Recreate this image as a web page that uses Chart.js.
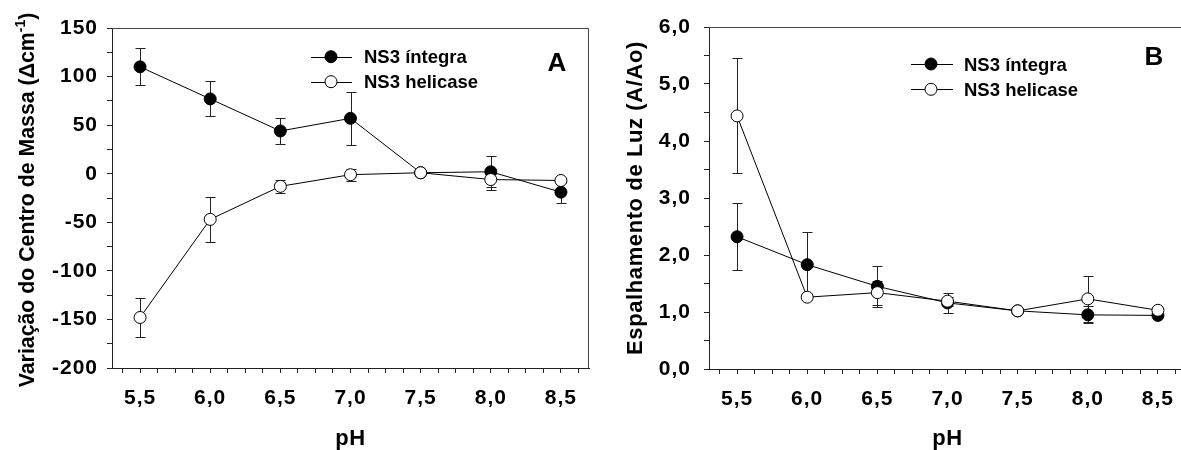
<!DOCTYPE html>
<html>
<head>
<meta charset="utf-8">
<script src="https://cdn.jsdelivr.net/npm/chart.js@4.4.1/dist/chart.umd.min.js"></script>
<style>
  html, body { margin: 0; padding: 0; background: #fff; }
  body { width: 1181px; height: 450px; overflow: hidden; position: relative; }
  .panel { position: absolute; top: 0; width: 600px; height: 450px; }
  #panelA { left: 0; }
  #panelB { left: 600px; }
</style>
</head>
<body>
<div class="panel" id="panelA"><canvas id="chartA" width="600" height="450"></canvas></div>
<div class="panel" id="panelB"><canvas id="chartB" width="600" height="450"></canvas></div>
<script>
// pH values shared by both panels
const ph = [5.5, 6.0, 6.5, 7.0, 7.5, 8.0, 8.5];
const phLabels = ['5,5', '6,0', '6,5', '7,0', '7,5', '8,0', '8,5'];
const seriesNames = ['NS3 íntegra', 'NS3 helicase'];

// Panel A: shift of the spectral centre of mass (cm-1)
const shiftIntegra = [110, 77, 44, 57, 1, 2, -19];
const shiftIntegraErr = [19, 18, 13, 27, 0, 16, 11];
const shiftHelicase = [-148, -47, -13, -1, 1, -6, -7];
const shiftHelicaseErr = [20, 23, 6.5, 6, 0, 11, 3];
const shiftTicks = [-200, -150, -100, -50, 0, 50, 100, 150];
const shiftTickLabels = ['-200', '-150', '-100', '-50', '0', '50', '100', '150'];

// Panel B: light scattering (A/Ao)
const scatIntegra = [2.32, 1.83, 1.45, 1.16, 1.02, 0.95, 0.94];
const scatIntegraErr = [0.59, 0.58, 0.36, 0.17, 0, 0.15, 0.03];
const scatHelicase = [4.44, 1.26, 1.34, 1.19, 1.02, 1.23, 1.03];
const scatHelicaseErr = [1.01, 0.05, 0.21, 0.08, 0, 0.41, 0.03];
const scatTicks = [0, 1, 2, 3, 4, 5, 6];
const scatTickLabels = ['0,0', '1,0', '2,0', '3,0', '4,0', '5,0', '6,0'];

const FONT = "'Liberation Sans', Arial, Helvetica, sans-serif";
const INK = '#000';
const AXIS = '#222';

function steps(from, to, step) {
  const out = [];
  const n = Math.round((to - from) / step);
  for (let i = 0; i <= n; i++) out.push(+(from + i * step).toFixed(6));
  return out;
}

function labelFor(values, labels) {
  return (v) => {
    const i = values.findIndex(t => Math.abs(t - v) < 1e-6);
    return i >= 0 ? labels[i] : '';
  };
}

function points(ys) {
  return ph.map((x, i) => ({ x, y: ys[i] }));
}

// Frame, error bars, axis titles, legend and panel letter
function panelPlugin(p) {
  return {
    id: 'panelDecor',
    beforeDraw(chart) {
      chart.ctx.letterSpacing = '1px';
    },
    beforeDatasetsDraw(chart) {
      const ctx = chart.ctx;
      ctx.letterSpacing = '0px';
      const a = chart.chartArea;
      ctx.save();
      ctx.strokeStyle = '#444';
      ctx.lineWidth = 1;
      const top = Math.round(a.top) + 0.5;
      const right = Math.round(a.right) - 0.5;
      ctx.beginPath();
      ctx.moveTo(a.left, top);
      ctx.lineTo(right, top);
      ctx.lineTo(right, a.bottom);
      ctx.stroke();

      // error bars
      const xs = chart.scales.x, ysc = chart.scales.y;
      ctx.strokeStyle = AXIS;
      chart.data.datasets.forEach(ds => {
        const errs = ds.errorBars || [];
        ds.data.forEach((pt, j) => {
          const e = errs[j];
          if (!e) return;
          const x = Math.round(xs.getPixelForValue(pt.x)) + 0.5;
          const y1 = Math.round(ysc.getPixelForValue(pt.y + e)) + 0.5;
          const y2 = Math.round(ysc.getPixelForValue(pt.y - e)) + 0.5;
          ctx.beginPath();
          ctx.moveTo(x, y1); ctx.lineTo(x, y2);
          ctx.moveTo(x - 5, y1); ctx.lineTo(x + 5, y1);
          ctx.moveTo(x - 5, y2); ctx.lineTo(x + 5, y2);
          ctx.stroke();
        });
      });
      ctx.restore();
    },
    afterDraw(chart) {
      const ctx = chart.ctx;
      const a = chart.chartArea;
      ctx.save();
      ctx.fillStyle = INK;

      // x axis title
      ctx.letterSpacing = '0.5px';
      ctx.font = 'bold 22px ' + FONT;
      ctx.textAlign = 'center';
      ctx.textBaseline = 'alphabetic';
      ctx.fillText('pH', (a.left + a.right) / 2, 445);

      // y axis title (rotated, optional superscript)
      ctx.save();
      ctx.letterSpacing = p.yTitleSpacing;
      ctx.translate(p.yTitleX, p.yTitleY);
      ctx.rotate(-Math.PI / 2);
      ctx.textAlign = 'left';
      const mainFont = 'bold ' + p.yTitleSize + 'px ' + FONT;
      const supFont = 'bold 14px ' + FONT;
      ctx.font = mainFont;
      const wMain = ctx.measureText(p.yTitle).width;
      let wSup = 0, wEnd = 0;
      if (p.ySup) {
        ctx.font = supFont;
        wSup = ctx.measureText(p.ySup).width;
        ctx.font = mainFont;
        wEnd = ctx.measureText(p.yTitleEnd).width;
      }
      let x = -(wMain + wSup + wEnd) / 2;
      ctx.font = mainFont;
      ctx.fillText(p.yTitle, x, 0);
      x += wMain;
      if (p.ySup) {
        ctx.font = supFont;
        ctx.fillText(p.ySup, x, -9);
        x += wSup;
        ctx.font = mainFont;
        ctx.fillText(p.yTitleEnd, x, 0);
      }
      ctx.restore();

      // legend
      ctx.letterSpacing = '0px';
      ctx.font = 'bold 18.5px ' + FONT;
      ctx.textAlign = 'left';
      chart.data.datasets.slice().sort((d1, d2) => d1.legendIndex - d2.legendIndex).forEach((ds, i) => {
        const y = p.legendY + i * p.legendStep;
        ctx.strokeStyle = INK;
        ctx.lineWidth = 1;
        ctx.beginPath();
        ctx.moveTo(p.legendX0, Math.round(y) + 0.5);
        ctx.lineTo(p.legendX1, Math.round(y) + 0.5);
        ctx.stroke();
        ctx.beginPath();
        ctx.arc(p.legendMarkX, y, 6, 0, Math.PI * 2);
        ctx.fillStyle = ds.pointBackgroundColor;
        ctx.fill();
        ctx.stroke();
        ctx.fillStyle = INK;
        ctx.fillText(ds.label, p.legendTextX, y + 6.6);
      });

      // panel letter
      ctx.font = 'bold 26px ' + FONT;
      ctx.textAlign = 'center';
      ctx.fillText(p.letter, p.letterX, p.letterY);
      ctx.restore();
    }
  };
}

function makePanel(id, p) {
  const xTickVals = steps(5.375, 8.625, 0.125);
  const yTickVals = steps(p.yMin, p.yMax, p.yMinor);
  return new Chart(document.getElementById(id), {
    type: 'line',
    data: {
      datasets: [
        {
          label: seriesNames[1],
          legendIndex: 1,
          data: points(p.helicase),
          errorBars: p.helicaseErr,
          borderColor: INK,
          borderWidth: 1,
          pointRadius: 6,
          pointBackgroundColor: '#fff',
          pointBorderColor: INK,
          pointBorderWidth: 1,
          tension: 0,
          order: 0
        },
        {
          label: seriesNames[0],
          legendIndex: 0,
          data: points(p.integra),
          errorBars: p.integraErr,
          borderColor: INK,
          borderWidth: 1,
          pointRadius: 6,
          pointBackgroundColor: '#000',
          pointBorderColor: INK,
          pointBorderWidth: 1,
          tension: 0,
          order: 1
        }
      ]
    },
    options: {
      responsive: false,
      animation: false,
      events: [],
      layout: { padding: { top: p.top, right: 600 - p.right, left: 0, bottom: 0 } },
      plugins: { legend: { display: false }, tooltip: { enabled: false }, title: { display: false } },
      scales: {
        x: {
          type: 'linear',
          min: 5.3,
          max: 8.7,
          afterBuildTicks: (s) => { s.ticks = xTickVals.map(v => ({ value: v })); },
          afterFit: (s) => { s.height = 450 - p.bottom; },
          grid: { display: true, drawOnChartArea: false, drawTicks: true, tickLength: 5, tickColor: AXIS, tickWidth: 1 },
          border: { display: true, color: AXIS, width: 1 },
          ticks: {
            autoSkip: false,
            maxRotation: 0,
            padding: p.xPad,
            color: INK,
            font: { family: FONT, size: 21, weight: 'bold' },
            callback: labelFor(ph, phLabels)
          }
        },
        y: {
          type: 'linear',
          min: p.yMin,
          max: p.yMax,
          afterBuildTicks: (s) => { s.ticks = yTickVals.map(v => ({ value: v })); },
          afterFit: (s) => { s.width = p.left; },
          grid: { display: true, drawOnChartArea: false, drawTicks: true, tickLength: 5, tickColor: AXIS, tickWidth: 1 },
          border: { display: true, color: AXIS, width: 1 },
          ticks: {
            autoSkip: false,
            padding: p.yPad,
            color: INK,
            font: { family: FONT, size: 21, weight: 'bold' },
            callback: labelFor(p.yTicks, p.yTickLabels)
          }
        }
      }
    },
    plugins: [panelPlugin(p)]
  });
}

makePanel('chartA', {
  left: 112, right: 589, top: 28, bottom: 368,
  yMin: -200, yMax: 150, yMinor: 25,
  yTicks: shiftTicks, yTickLabels: shiftTickLabels,
  integra: shiftIntegra, integraErr: shiftIntegraErr,
  helicase: shiftHelicase, helicaseErr: shiftHelicaseErr,
  xPad: 13, yPad: 9,
  yTitle: 'Variação do Centro de Massa (Δcm', ySup: '-1', yTitleEnd: ')',
  yTitleSize: 21.3, yTitleSpacing: '0px', yTitleX: 33.5, yTitleY: 200,
  legendX0: 311, legendX1: 352, legendMarkX: 331, legendTextX: 364, legendY: 56.7, legendStep: 25,
  letter: 'A', letterX: 557, letterY: 71
});

makePanel('chartB', {
  left: 109, right: 586, top: 27, bottom: 369,
  yMin: 0, yMax: 6, yMinor: 0.5,
  yTicks: scatTicks, yTickLabels: scatTickLabels,
  integra: scatIntegra, integraErr: scatIntegraErr,
  helicase: scatHelicase, helicaseErr: scatHelicaseErr,
  xPad: 13, yPad: 13,
  yTitle: 'Espalhamento de Luz (A/Ao)', ySup: '', yTitleEnd: '',
  yTitleSize: 22, yTitleSpacing: '0.6px', yTitleX: 41.7, yTitleY: 198,
  legendX0: 311, legendX1: 353, legendMarkX: 331, legendTextX: 364, legendY: 64, legendStep: 25.3,
  letter: 'B', letterX: 554, letterY: 65
});
</script>
</body>
</html>
